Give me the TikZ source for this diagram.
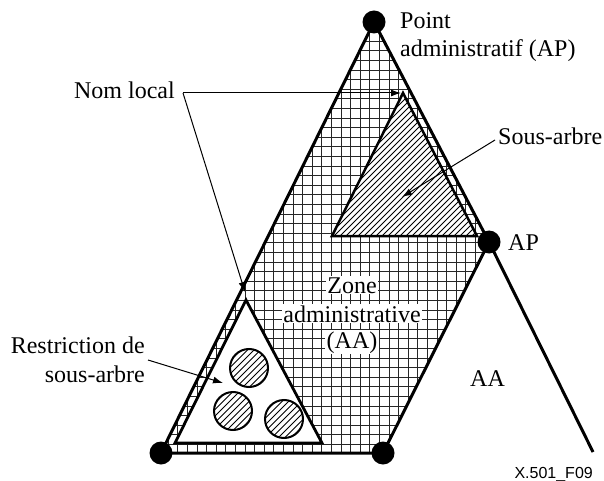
\documentclass[tikz,border=0pt]{standalone}
\usepackage{fontspec}
\setmainfont{Liberation Serif}
\newfontfamily\figsans{Liberation Sans}
\usetikzlibrary{arrows.meta}

\begin{document}
\begin{tikzpicture}[x=1bp,y=-1bp,
  edge/.style={line width=3bp, line join=round},
  gridline/.style={line width=0.9bp, black!85},
  hatchline/.style={line width=0.8bp},
  pointer/.style={line width=1bp, -{Latex[length=10bp,width=7bp]}},
  lbl/.style={inner sep=0pt, font=\fontsize{24bp}{28bp}\selectfont},
  haloed/.style={lbl, fill=white, inner xsep=1.5bp, inner ysep=1bp},
  dot/.style={circle, fill=black, minimum size=23bp, inner sep=0pt},
  hatchdisc/.style={circle, draw, line width=2bp, minimum size=38bp, inner sep=0pt,
    fill=white,
    path picture={
      \foreach \k in {-6,...,6}
        \draw[hatchline] ([xshift=\k*6.5bp-25bp, yshift=-25bp]path picture bounding box.center) -- ++(50,-50);
    }}]

\useasboundingbox (0,0) rectangle (604,481);

% corners of the administrative area
\coordinate (apex) at (374,22);
\coordinate (apR) at (489,242);
\coordinate (bR) at (383,453);
\coordinate (bL) at (161,453);
\coordinate (tail) at (593,452);

% cross-hatched administrative area
\begin{scope}
  \clip (apex) -- (apR) -- (bR) -- (bL) -- cycle;
  \foreach \i in {0,...,35} \draw[gridline] ({158.7+9.6*\i},0) -- ++(0,481);
  \foreach \j in {0,...,45} \draw[gridline] (0,{22+9.6*\j}) -- ++(604,0);
\end{scope}

% subtree (hatched triangle)
\coordinate (sA) at (403,93);
\coordinate (sL) at (332,236);
\coordinate (sR) at (477,236);
\fill[white] (sA) -- (sL) -- (sR) -- cycle;
\begin{scope}
  \clip (sA) -- (sL) -- (sR) -- cycle;
  \foreach \c in {0,...,40} \draw[hatchline] ({236+6*\c},250) -- ++(170,-170);
\end{scope}
\draw[line width=2.5bp, line join=miter] (sA) -- (sL) -- (sR) -- cycle;

% subtree refinement triangle
\coordinate (rA) at (246,300);
\coordinate (rL) at (175,443);
\coordinate (rR) at (322,443);
\fill[white] (rA) -- (rL) -- (rR) -- cycle;
\draw[line width=2.8bp, line join=miter] (rA) -- (rL) -- (rR) -- cycle;

\node[hatchdisc] (c1) at (249,368) {};
\node[hatchdisc] (c2) at (233,411) {};
\node[hatchdisc] (c3) at (284,419) {};

% outline of the areas
\draw[edge] (bL) -- (apex) -- (apR) -- (tail);
\draw[edge] (apR) -- (bR) -- (bL);

% administrative points
\node[dot] (apTop) at (apex) {};
\node[dot] (apRight) at (apR) {};
\node[dot] (dotBL) at (bL) {};
\node[dot] (dotBR) at (bR) {};

% labels
\node[lbl, anchor=base west] (pt1) at (400,29) {Point};
\node[lbl, anchor=base west] (pt2) at (400,57) {administratif (AP)};
\node[lbl, anchor=base west] (apLbl) at (508,250) {AP};
\node[lbl, anchor=base west] (subLbl) at (498,145) {Sous-arbre};
\node[lbl, anchor=base east] (nlLbl) at (175,99) {Nom local};
\node[lbl, anchor=base east] (rs1) at (145,353) {Restriction de};
\node[lbl, anchor=base east] (rs2) at (145,382) {sous-arbre};
\node[lbl, anchor=base] (aaLbl) at (487.5,386) {AA};
\node[haloed, anchor=base] (zn1) at (352,293) {Zone};
\node[haloed, anchor=base] (zn2) at (352,322) {administrative};
\node[haloed, anchor=base] (zn3) at (352,348) {(AA)};
\node[inner sep=0pt, anchor=base east, font=\figsans\fontsize{16bp}{18bp}\selectfont] (fig) at (593,478) {X.501\_F09};

% leader lines
\coordinate (nlJ) at (183,93);
\coordinate (tipSub) at (401,93);
\coordinate (tipRes) at (245,292);
\coordinate (subJ) at (495,140);
\coordinate (tipSubIn) at (402,197);
\coordinate (resJ) at (148,360);
\coordinate (tipResIn) at (223,383);

\draw[pointer] (nlJ) -- (tipSub);
\draw[pointer] (nlJ) -- (tipRes);
\draw[pointer] (subJ) -- (tipSubIn);
\draw[pointer] (resJ) -- (tipResIn);

\end{tikzpicture}
\end{document}
